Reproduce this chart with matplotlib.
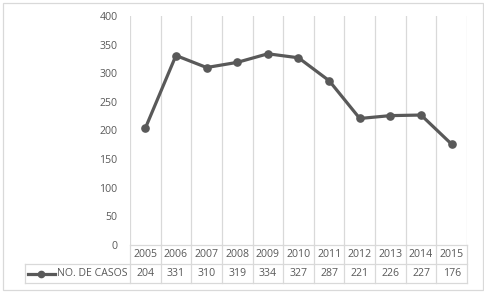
import matplotlib
matplotlib.use("Agg")
import matplotlib.pyplot as plt
from matplotlib.lines import Line2D
from matplotlib.patches import Rectangle
import matplotlib.transforms as mtransforms

years = ["2005", "2006", "2007", "2008", "2009", "2010", "2011", "2012", "2013", "2014", "2015"]
casos = [204, 331, 310, 319, 334, 327, 287, 221, 226, 227, 176]
series_name = "NO. DE CASOS"
yticks = [0, 50, 100, 150, 200, 250, 300, 350, 400]

W, H = 485, 293
fig = plt.figure(figsize=(W / 100, H / 100), dpi=100)
plt.rcParams['font.family'] = ['Open Sans', 'DejaVu Sans']

def fx(px):
    return px / W

def fy(py):
    return 1 - py / H

text_c = "#595959"
grid_c = "#d9d9d9"
line_c = "#595959"
fs = 7.6

x0, x1 = 130, 467
ytop, ybot = 16, 245
ax = fig.add_axes([fx(x0), fy(ybot), fx(x1) - fx(x0), fy(ytop) - fy(ybot)])
n = len(years)
xs = [i + 0.5 for i in range(n)]
ax.plot(xs, casos, color=line_c, lw=2.3, marker="o", ms=5.2, solid_capstyle="round", zorder=3)
ax.set_xlim(0, n)
ax.set_ylim(0, 400)
ax.set_yticks(yticks)
ax.set_yticklabels([str(v) for v in yticks], color=text_c, fontsize=fs)
ax.tick_params(axis="y", length=0, pad=9)
ax.set_xticks([])
for s in ax.spines.values():
    s.set_visible(False)
for i in range(n + 1):
    ax.axvline(i, color=grid_c, lw=0.9, zorder=1)

# table lines (extend grid below the axis)
blend = mtransforms.blended_transform_factory(ax.transData, fig.transFigure)
row1, row2, row3 = 245, 264, 283
for i in range(n + 1):
    fig.add_artist(Line2D([i, i], [fy(row1), fy(row3)], transform=blend, color=grid_c, lw=0.9))
fig.add_artist(Line2D([fx(x0), fx(x1)], [fy(row1), fy(row1)], transform=fig.transFigure, color=grid_c, lw=0.9))
for r in (row2, row3):
    fig.add_artist(Line2D([fx(25), fx(x1)], [fy(r), fy(r)], transform=fig.transFigure, color=grid_c, lw=0.9))
fig.add_artist(Line2D([fx(25), fx(25)], [fy(row2), fy(row3)], transform=fig.transFigure, color=grid_c, lw=0.9))

for i, (yr, v) in enumerate(zip(years, casos)):
    fig.text(xs[i], fy((row1 + row2) / 2), yr, transform=blend, ha="center", va="center", color=text_c, fontsize=fs)
    fig.text(xs[i], fy((row2 + row3) / 2), str(v), transform=blend, ha="center", va="center", color=text_c, fontsize=fs)

# legend key
ym = fy((row2 + row3) / 2)
fig.add_artist(Line2D([fx(28), fx(55)], [ym, ym], transform=fig.transFigure, color=line_c, lw=2.3))
fig.add_artist(Line2D([fx(41.5)], [ym], transform=fig.transFigure, color=line_c, marker="o", ms=4.5, lw=0))
fig.text(fx(57), ym, series_name, ha="left", va="center", color=text_c, fontsize=fs)

# outer border
fig.add_artist(Rectangle((fx(3), fy(290)), fx(480), fy(3) - fy(290), transform=fig.transFigure,
                         fill=False, edgecolor=grid_c, lw=0.9))

fig.savefig("out.png", dpi=100)
